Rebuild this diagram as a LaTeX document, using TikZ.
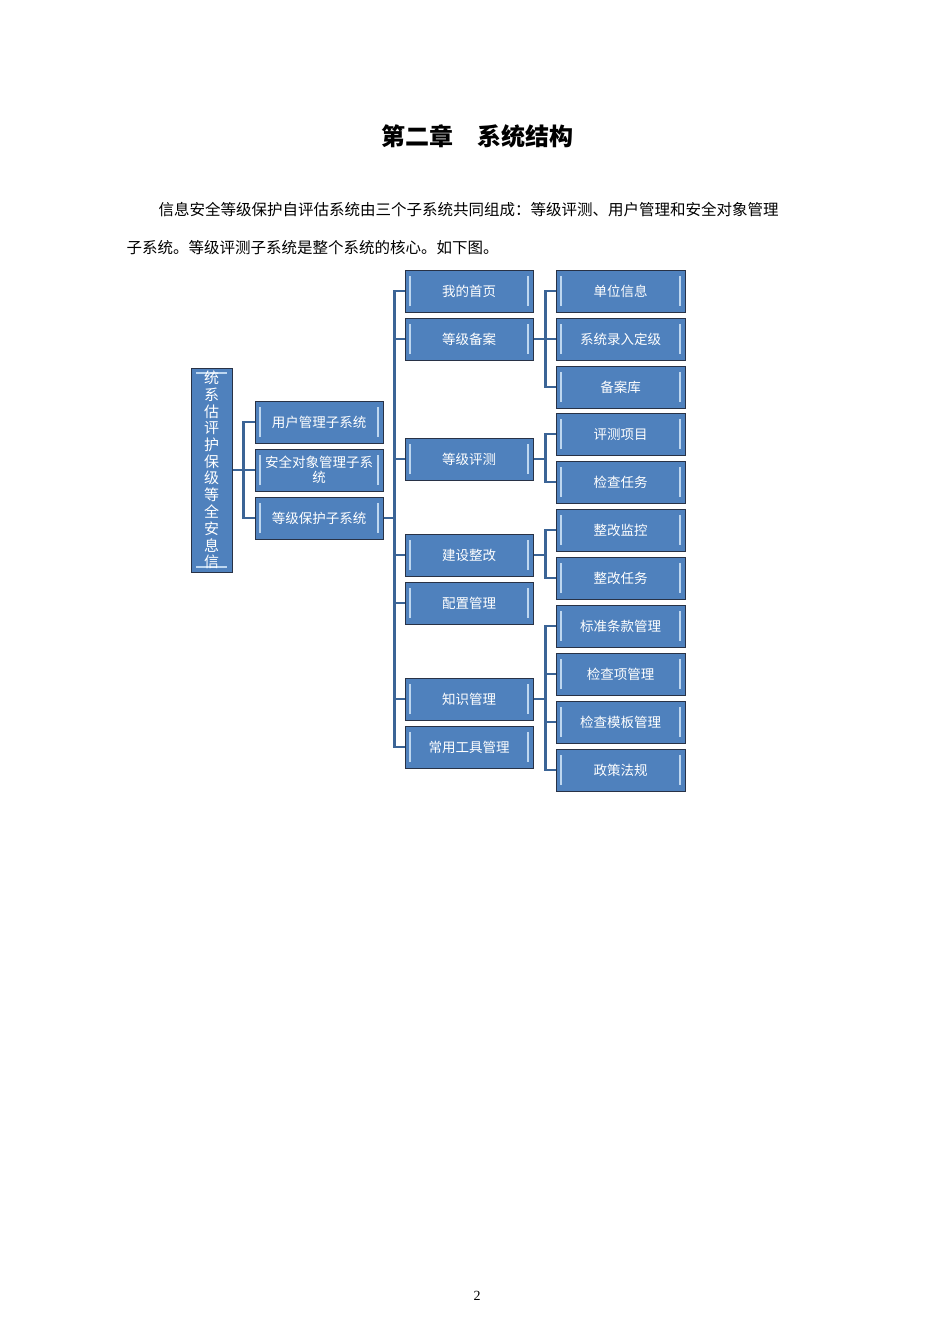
\documentclass[tikz,border=0pt]{standalone}
\usepackage{fontspec}
\setmainfont{Noto Sans CJK SC}
\newfontfamily\serifnum{Liberation Serif}
\definecolor{bxborder}{RGB}{40,50,70}
\definecolor{bxfill}{RGB}{79,129,189}
\definecolor{bxbar}{RGB}{190,215,240}
\definecolor{lnc}{RGB}{59,100,150}
\begin{document}
\begin{tikzpicture}[x=1pt,y=-1pt,
  bx/.style={draw=bxborder,line width=1pt,fill=bxfill,text=white,
    minimum width=#1,inner sep=0pt,font=\fontsize{13.5}{15}\selectfont,align=center,
    path picture={
      \draw[bxbar,line width=2.2pt]
        ([xshift=5pt,yshift=-6pt]path picture bounding box.north west) -- ([xshift=5pt,yshift=6pt]path picture bounding box.south west)
        ([xshift=-5pt,yshift=-6pt]path picture bounding box.north east) -- ([xshift=-5pt,yshift=6pt]path picture bounding box.south east);}},
  bx/.default=128pt,
  ln/.style={draw=lnc,line width=2.5pt}]
\useasboundingbox (0,0) rectangle (950,1344);
\node[font=\fontsize{24}{28}\selectfont\bfseries] (title) at (477,136) {第二章\quad 系统结构};
\node[anchor=west,font=\fontsize{15.5}{18}\selectfont] (p1) at (155,210) {信息安全等级保护自评估系统由三个子系统共同组成：等级评测、用户管理和安全对象管理};
\node[anchor=west,font=\fontsize{15.5}{18}\selectfont] (p2) at (123,248) {子系统。等级评测子系统是整个系统的核心。如下图。};
\node[font=\serifnum\fontsize{14}{16}\selectfont] (pg) at (477,1296) {2};
% root
\node[bx=41pt,minimum height=204pt,path picture={
  \draw[bxbar,line width=2.2pt]
   ([xshift=5pt,yshift=-5pt]path picture bounding box.north west) -- ([xshift=-5pt,yshift=-5pt]path picture bounding box.north east)
   ([xshift=5pt,yshift=5pt]path picture bounding box.south west) -- ([xshift=-5pt,yshift=5pt]path picture bounding box.south east);},
  font=\fontsize{15}{16.8}\selectfont] (root) at (211.5,470) {\shortstack{统\\系\\估\\评\\护\\保\\级\\等\\全\\安\\息\\信}};
% level 1
\node[bx,minimum height=42pt] (u) at (319,422) {用户管理子系统};
\node[bx,minimum height=42pt,font=\fontsize{13.5}{15}\selectfont] (s) at (319,470) {安全对象管理子系\\统};
\node[bx,minimum height=42pt] (g) at (319,518) {等级保护子系统};
% level 2
\foreach \n/\y/\t in {a/291/我的首页,b/339/等级备案,c/459/等级评测,d/555/建设整改,e/603/配置管理,f/699/知识管理,h/747/常用工具管理}
  \node[bx,minimum height=42pt] (\n) at (469,\y) {\t};
% level 3
\foreach \n/\y/\t in {b1/291/单位信息,b2/339/系统录入定级,b3/387/备案库,c1/434/评测项目,c2/482/检查任务,d1/530/整改监控,d2/578/整改任务,f1/626/标准条款管理,f2/674/检查项管理,f3/722/检查模板管理,f4/770/政策法规}
  \node[bx=129pt,minimum height=42pt] (\n) at (620.5,\y) {\t};
% connectors
\foreach \d in {u,s,g} \draw[ln] (root.east) -- ++(11,0) |- (\d.west);
\foreach \d in {a,b,c,d,e,f,h} \draw[ln] (g.east) -- ++(11,0) |- (\d.west);
\foreach \d in {b1,b2,b3} \draw[ln] (b.east) -- ++(12,0) |- (\d.west);
\foreach \d in {c1,c2} \draw[ln] (c.east) -- ++(12,0) |- (\d.west);
\foreach \d in {d1,d2} \draw[ln] (d.east) -- ++(12,0) |- (\d.west);
\foreach \d in {f1,f2,f3,f4} \draw[ln] (f.east) -- ++(12,0) |- (\d.west);
\end{tikzpicture}
\end{document}
